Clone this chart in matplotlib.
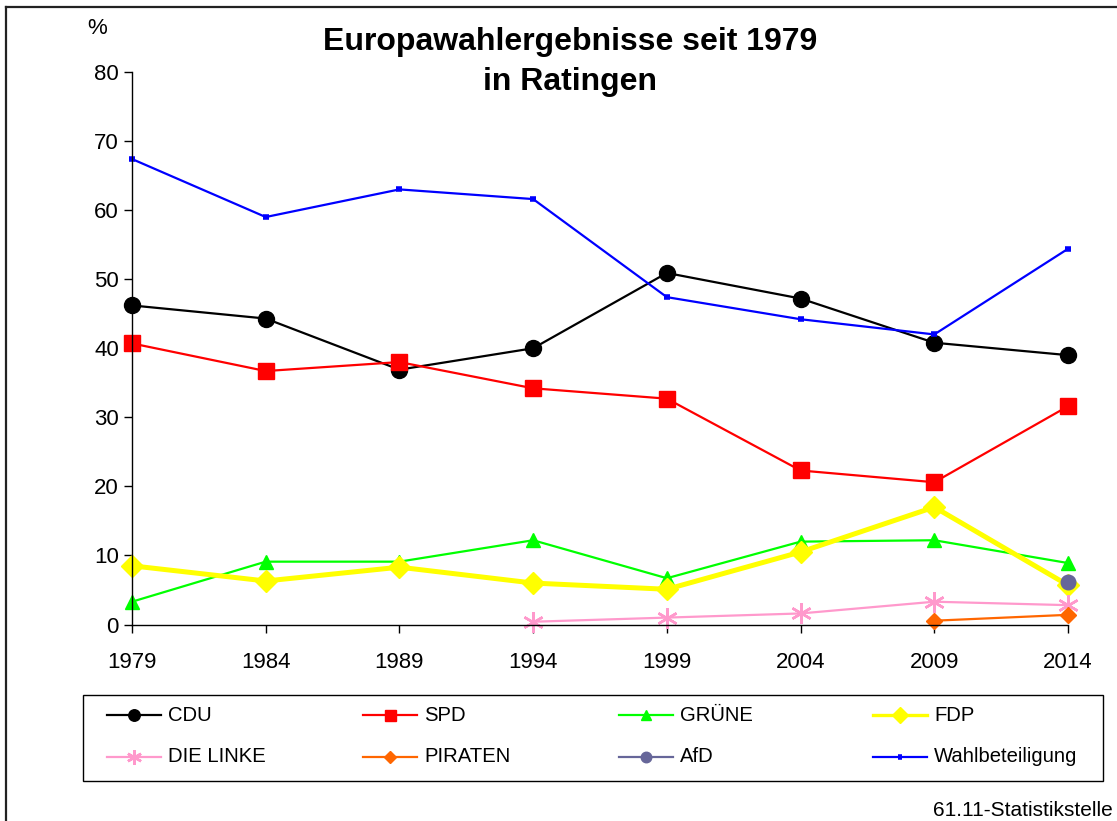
import matplotlib
matplotlib.use("Agg")
import matplotlib.pyplot as plt
from matplotlib.lines import Line2D
from matplotlib.patches import Rectangle

plt.rcParams['font.family'] = ['Liberation Sans', 'DejaVu Sans']

years = [1979, 1984, 1989, 1994, 1999, 2004, 2009, 2014]
cdu = [46.2, 44.3, 36.9, 40.0, 50.9, 47.2, 40.8, 39.0]
spd = [40.7, 36.7, 38.0, 34.2, 32.7, 22.3, 20.6, 31.6]
gruene = [3.3, 9.1, 9.1, 12.2, 6.7, 12.0, 12.2, 8.9]
fdp = [8.5, 6.3, 8.3, 6.0, 5.1, 10.5, 17.0, 5.7]
linke_years = [1994, 1999, 2004, 2009, 2014]
linke = [0.4, 1.0, 1.6, 3.3, 2.8]
piraten_years = [2009, 2014]
piraten = [0.55, 1.4]
afd_years = [2014]
afd = [6.1]
wahlbeteiligung = [67.4, 59.0, 63.0, 61.6, 47.4, 44.2, 42.0, 54.4]

title = "Europawahlergebnisse seit 1979\nin Ratingen"

W, H = 1117, 821
fig = plt.figure(figsize=(W / 100, H / 100), dpi=100)
ax = fig.add_axes([132 / W, 1 - 624.5 / H, (1068 - 132) / W, (624.5 - 72) / H])

series = [
    ("CDU", years, cdu, dict(color="black", lw=1.6, marker="o", ms=11.5, mfc="black", mec="black")),
    ("SPD", years, spd, dict(color="#FF0000", lw=1.6, marker="s", ms=11, mfc="#FF0000", mec="#FF0000")),
    ("GRÜNE", years, gruene, dict(color="#00FF00", lw=1.6, marker="^", ms=10, mfc="#00FF00", mec="#00FF00")),
    ("FDP", years, fdp, dict(color="#FFFF00", lw=3.6, marker="D", ms=11, mfc="#FFFF00", mec="#FFFF00")),
    ("DIE LINKE", linke_years, linke, dict(color="#FF99CC", lw=1.6, marker=(6, 2, 0), ms=15, mfc="#FF99CC", mec="#FF99CC", mew=1.8)),
    ("PIRATEN", piraten_years, piraten, dict(color="#FF6600", lw=1.6, marker="D", ms=8, mfc="#FF6600", mec="#FF6600")),
    ("AfD", afd_years, afd, dict(color="#666699", lw=1.6, marker="o", ms=10.5, mfc="#666699", mec="#666699")),
    ("Wahlbeteiligung", years, wahlbeteiligung, dict(color="#0000FF", lw=1.6, marker="_", ms=5, mfc="#0000FF", mec="#0000FF", mew=4)),
]

for name, xs, ys, kw in series:
    ax.plot(xs, ys, clip_on=False, **kw)

ax.set_xlim(1979, 2014)
ax.set_ylim(0, 80)
ax.set_xticks(years)
ax.set_xticklabels([str(y) for y in years])
ax.set_yticks(range(0, 81, 10))
for s in ("top", "right"):
    ax.spines[s].set_visible(False)
for s in ("left", "bottom"):
    ax.spines[s].set_linewidth(1.0)
ax.tick_params(axis="both", direction="out", length=5.5, width=1.0, labelsize=16)
ax.tick_params(axis="x", pad=14)
ax.tick_params(axis="y", pad=4)

fig.text(97 / W, 1 - 28 / H, "%", fontsize=16, ha="center", va="center")
fig.text(570 / W, 1 - 62 / H, title, fontsize=23, fontweight="bold",
         ha="center", va="center", linespacing=1.45)

# legend box drawn manually so the four columns sit evenly as in the reference
fig.add_artist(Rectangle((83 / W, 1 - 781 / H), (1103 - 83) / W, (781 - 695) / H,
                         transform=fig.transFigure, fill=False, edgecolor="black", lw=1.0))
col_x = [107, 363, 619, 873]
row_y = [715, 757]
for i, (name, xs, ys, kw) in enumerate(series):
    r, c = divmod(i, 4)
    x0 = col_x[c]
    y = 1 - row_y[r] / H
    lk = dict(kw)
    lk["lw"] = 2.4 if name == "FDP" else 1.6
    lk["ms"] = kw["ms"] * 0.72
    fig.add_artist(Line2D([x0 / W, (x0 + 54) / W], [y, y], transform=fig.transFigure,
                          color=kw["color"], lw=lk["lw"]))
    mk = {k: v for k, v in lk.items() if k not in ("color", "lw")}
    fig.add_artist(Line2D([(x0 + 27) / W], [y], transform=fig.transFigure,
                          linestyle="none", **mk))
    fig.text((x0 + 61) / W, y, name, fontsize=14.6, ha="left", va="center")

fig.text(1113 / W, 1 - 810 / H, "61.11-Statistikstelle", fontsize=15, ha="right", va="center")

# figure frame (top and left)
fig.add_artist(Line2D([6 / W, 6 / W], [0, 1 - 7.5 / H], transform=fig.transFigure, color="#222222", lw=1.6))
fig.add_artist(Line2D([6 / W, 1], [1 - 7.5 / H, 1 - 7.5 / H], transform=fig.transFigure, color="#222222", lw=1.6))

fig.savefig("out.png", dpi=100)
